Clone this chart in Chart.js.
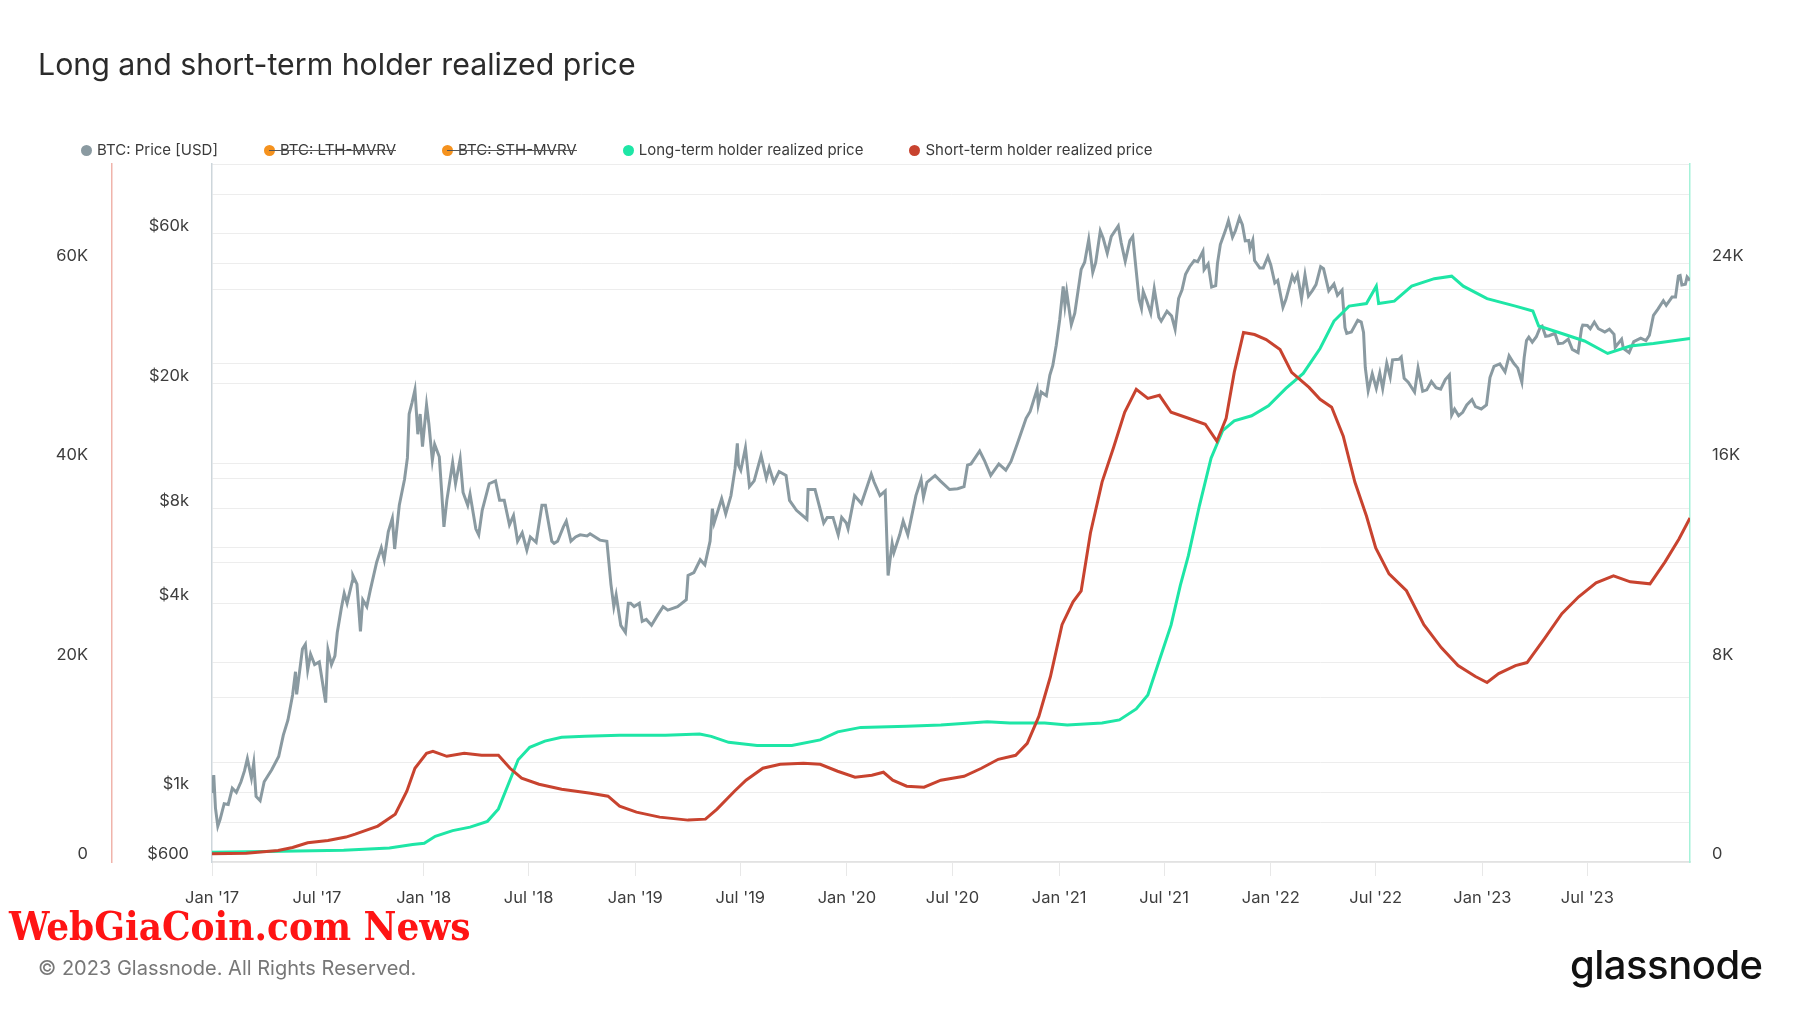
<!DOCTYPE html>
<html>
<head>
<meta charset="utf-8">
<title>Long and short-term holder realized price</title>
<script src="https://cdn.jsdelivr.net/npm/chart.js@4.4.0/dist/chart.umd.min.js"></script>
<style>
  html, body { margin: 0; padding: 0; background: #fff; }
  body { width: 1800px; height: 1013px; position: relative; overflow: hidden; font-family: Inter, "Noto Sans", sans-serif; }
  #chart { position: absolute; left: 0; top: 0; }
  #title { position: absolute; left: 38px; top: 46px; font-size: 30.3px; color: #2b2b2b; white-space: nowrap; }
  #legend { position: absolute; left: 81px; top: 140px; display: flex; font-size: 15px; color: #3b3b3b; white-space: nowrap; }
  #legend .item { position: relative; display: flex; align-items: center; margin-right: 46px; line-height: 20px; }
  #legend .dot { width: 11px; height: 11px; border-radius: 50%; margin-right: 5px; }
  #legend .off::after { content: ''; position: absolute; left: 5px; right: 0; top: 10px; height: 1px; background: #555; }
  #mark { position: absolute; left: 9px; top: 902px; font-family: "DejaVu Serif Condensed", "DejaVu Serif", serif; font-weight: bold; font-size: 40px; color: #ff1414; white-space: nowrap; }
  #copy { position: absolute; left: 38px; top: 956px; font-size: 20px; color: #777; white-space: nowrap; }
  #logo { position: absolute; left: 1570px; top: 940px; font-size: 40px; font-weight: 500; color: #111; letter-spacing: -0.5px; }
</style>
</head>
<body>
<canvas id="chart" width="1800" height="1013"></canvas>
<div id="title">Long and short-term holder realized price</div>
<div id="legend"></div>
<div id="mark">WebGiaCoin.com News</div>
<div id="copy">© 2023 Glassnode. All Rights Reserved.</div>
<div id="logo">glassnode</div>
<script>
// x axis ticks
const xTickDates  = ['2017-01-01','2017-07-01','2018-01-01','2018-07-01','2019-01-01','2019-07-01','2020-01-01',
                     '2020-07-01','2021-01-01','2021-07-01','2022-01-01','2022-07-01','2023-01-01','2023-07-01'];
const xTickLabels = ["Jan '17","Jul '17","Jan '18","Jul '18","Jan '19","Jul '19","Jan '20",
                     "Jul '20","Jan '21","Jul '21","Jan '22","Jul '22","Jan '23","Jul '23"];

// left log axis (price)
const priceTickValues = [600, 800, 1000, 2000, 4000, 6000, 8000, 10000, 20000, 40000, 60000, 80000, 100000];
const priceTickLabels = ['$600', '', '$1k', '', '$4k', '', '$8k', '', '$20k', '', '$60k', '', ''];
// left linear axis (short-term holder realized price)
const sthTickValues = [0, 10000, 20000, 30000, 40000, 50000, 60000, 70000];
const sthTickLabels = ['0', '', '20K', '', '40K', '', '60K', ''];
// right linear axis (long-term holder realized price)
const lthTickValues = [0, 4000, 8000, 12000, 16000, 20000, 24000, 28000];
const lthTickLabels = ['0', '', '8K', '', '16K', '', '24K', ''];

// BTC: Price [USD]
const btcPrice = [
  ['2017-01-01',995],['2017-01-04',1135],['2017-01-07',890],['2017-01-11',780],['2017-01-15',820],['2017-01-22',920],
  ['2017-01-29',915],['2017-02-05',1030],['2017-02-12',1000],['2017-02-20',1080],['2017-02-26',1170],['2017-03-03',1280],
  ['2017-03-10',1110],['2017-03-14',1240],['2017-03-18',970],['2017-03-25',940],['2017-04-01',1080],['2017-04-14',1180],
  ['2017-04-26',1300],['2017-05-04',1520],['2017-05-12',1700],['2017-05-20',2040],['2017-05-25',2420],['2017-05-27',2050],
  ['2017-06-06',2860],['2017-06-11',2960],['2017-06-15',2450],['2017-06-20',2750],['2017-06-27',2550],['2017-07-05',2600],
  ['2017-07-16',1930],['2017-07-20',2840],['2017-07-26',2550],['2017-08-01',2720],['2017-08-05',3220],['2017-08-12',3850],
  ['2017-08-17',4300],['2017-08-22',4000],['2017-08-31',4700],['2017-09-01',4900],['2017-09-08',4600],['2017-09-14',3250],
  ['2017-09-18',4100],['2017-09-25',3900],['2017-10-01',4400],['2017-10-12',5400],['2017-10-20',6000],['2017-10-25',5500],
  ['2017-11-01',6750],['2017-11-08',7450],['2017-11-12',5950],['2017-11-20',8200],['2017-11-26',9300],['2017-11-29',9900],
  ['2017-12-04',11600],['2017-12-07',16000],['2017-12-12',17400],['2017-12-17',19100],['2017-12-22',13800],['2017-12-26',16000],
  ['2017-12-30',12600],['2018-01-06',17100],['2018-01-10',14900],['2018-01-16',11400],['2018-01-20',12800],['2018-01-28',11700],
  ['2018-02-01',9100],['2018-02-05',7000],['2018-02-10',8500],['2018-02-20',11200],['2018-02-25',9600],['2018-03-05',11500],
  ['2018-03-10',9000],['2018-03-18',8200],['2018-03-22',8900],['2018-04-01',6900],['2018-04-06',6600],['2018-04-12',7900],
  ['2018-04-24',9600],['2018-05-05',9800],['2018-05-12',8500],['2018-05-20',8500],['2018-05-29',7100],['2018-06-05',7600],
  ['2018-06-12',6300],['2018-06-20',6700],['2018-06-28',5900],['2018-07-04',6500],['2018-07-14',6250],['2018-07-24',8200],
  ['2018-07-30',8200],['2018-08-10',6300],['2018-08-14',6200],['2018-08-20',6300],['2018-08-30',7000],['2018-09-04',7300],
  ['2018-09-12',6300],['2018-09-20',6500],['2018-09-28',6600],['2018-10-10',6550],['2018-10-15',6650],['2018-11-01',6350],
  ['2018-11-13',6300],['2018-11-20',4600],['2018-11-25',3900],['2018-11-29',4250],['2018-12-07',3400],['2018-12-15',3230],
  ['2018-12-20',4000],['2018-12-24',4000],['2018-12-30',3900],['2019-01-08',4000],['2019-01-13',3500],['2019-01-20',3550],
  ['2019-01-29',3400],['2019-02-08',3650],['2019-02-18',3900],['2019-02-26',3800],['2019-03-15',3900],['2019-03-30',4100],
  ['2019-04-02',4900],['2019-04-12',5000],['2019-04-23',5500],['2019-05-01',5300],['2019-05-10',6300],['2019-05-14',8000],
  ['2019-05-17',7200],['2019-05-30',8600],['2019-06-06',7700],['2019-06-15',8800],['2019-06-22',10700],['2019-06-26',12900],
  ['2019-06-28',11000],['2019-07-02',10600],['2019-07-10',12500],['2019-07-17',9400],['2019-07-25',9800],['2019-08-06',11800],
  ['2019-08-15',10000],['2019-08-20',10800],['2019-08-28',9700],['2019-09-06',10500],['2019-09-18',10200],['2019-09-24',8500],
  ['2019-10-06',7900],['2019-10-24',7400],['2019-10-26',9200],['2019-11-07',9200],['2019-11-22',7200],['2019-11-28',7500],
  ['2019-12-08',7500],['2019-12-17',6600],['2019-12-23',7500],['2019-12-31',7200],['2020-01-03',6900],['2020-01-14',8800],
  ['2020-01-26',8300],['2020-02-12',10300],['2020-02-17',9700],['2020-02-27',8800],['2020-03-07',9100],['2020-03-12',4900],
  ['2020-03-19',6200],['2020-03-22',5800],['2020-04-01',6600],['2020-04-07',7300],['2020-04-15',6600],['2020-04-29',8800],
  ['2020-05-08',9900],['2020-05-12',8700],['2020-05-18',9700],['2020-06-01',10200],['2020-06-10',9800],['2020-06-26',9200],
  ['2020-07-10',9250],['2020-07-21',9400],['2020-07-27',11000],['2020-08-02',11100],['2020-08-17',12200],['2020-08-25',11400],
  ['2020-09-05',10200],['2020-09-19',11100],['2020-10-01',10600],['2020-10-10',11300],['2020-10-21',12900],['2020-11-05',15500],
  ['2020-11-12',16300],['2020-11-24',19200],['2020-11-26',17100],['2020-12-01',18800],['2020-12-10',18300],['2020-12-16',21300],
  ['2020-12-21',22800],['2020-12-27',26500],['2021-01-02',32000],['2021-01-08',40800],['2021-01-11',35500],['2021-01-14',39200],
  ['2021-01-22',30800],['2021-01-28',33500],['2021-02-08',46200],['2021-02-14',48700],['2021-02-21',57500],['2021-02-28',45200],
  ['2021-03-05',48500],['2021-03-13',61200],['2021-03-18',58000],['2021-03-25',52000],['2021-04-01',58800],['2021-04-13',63500],
  ['2021-04-18',56200],['2021-04-25',49000],['2021-05-03',57000],['2021-05-08',58800],['2021-05-12',49500],['2021-05-19',37000],
  ['2021-05-23',34700],['2021-05-26',39300],['2021-06-01',36700],['2021-06-08',33500],['2021-06-14',40100],['2021-06-22',32500],
  ['2021-06-26',31600],['2021-07-06',34000],['2021-07-14',32800],['2021-07-20',29800],['2021-07-26',37300],['2021-08-01',39800],
  ['2021-08-07',44600],['2021-08-14',47100],['2021-08-22',49300],['2021-08-28',48900],['2021-09-06',52700],['2021-09-08',46100],
  ['2021-09-15',48100],['2021-09-21',40600],['2021-09-28',41000],['2021-10-01',48200],['2021-10-06',55400],['2021-10-15',61600],
  ['2021-10-20',66000],['2021-10-27',58500],['2021-11-01',61300],['2021-11-08',67500],['2021-11-13',64100],['2021-11-18',56900],
  ['2021-11-24',57100],['2021-11-26',53700],['2021-12-01',57200],['2021-12-04',49300],['2021-12-13',46700],['2021-12-19',46700],
  ['2021-12-27',50700],['2022-01-01',47700],['2022-01-08',41800],['2022-01-13',42600],['2022-01-22',35000],['2022-01-27',37000],
  ['2022-02-07',44000],['2022-02-11',42400],['2022-02-16',44500],['2022-02-23',37300],['2022-03-01',44400],['2022-03-07',38000],
  ['2022-03-14',39600],['2022-03-20',41300],['2022-03-28',47100],['2022-04-02',46400],['2022-04-11',39500],['2022-04-20',41500],
  ['2022-04-26',38200],['2022-05-04',39700],['2022-05-09',30100],['2022-05-12',28900],['2022-05-20',29200],['2022-05-31',31800],
  ['2022-06-06',31400],['2022-06-10',29100],['2022-06-13',22500],['2022-06-18',19000],['2022-06-25',21500],['2022-07-02',19300],
  ['2022-07-08',21600],['2022-07-13',19300],['2022-07-20',23200],['2022-07-26',21000],['2022-07-30',23800],['2022-08-10',23900],
  ['2022-08-14',24300],['2022-08-19',20800],['2022-08-26',20200],['2022-09-06',18800],['2022-09-12',22400],['2022-09-20',18900],
  ['2022-09-27',19100],['2022-10-05',20300],['2022-10-13',19400],['2022-10-21',19200],['2022-10-29',20600],['2022-11-05',21300],
  ['2022-11-09',15900],['2022-11-14',16600],['2022-11-21',15800],['2022-11-28',16200],['2022-12-05',17100],['2022-12-14',17800],
  ['2022-12-20',16900],['2022-12-30',16600],['2023-01-08',17100],['2023-01-14',20900],['2023-01-21',22700],['2023-01-31',23100],
  ['2023-02-09',21800],['2023-02-16',24500],['2023-02-24',23200],['2023-03-03',22400],['2023-03-10',20200],['2023-03-14',24200],
  ['2023-03-18',27400],['2023-03-22',28100],['2023-03-28',27100],['2023-04-04',28200],['2023-04-11',30300],['2023-04-14',30500],
  ['2023-04-20',28300],['2023-04-26',28400],['2023-05-06',28900],['2023-05-12',26800],['2023-05-20',26900],['2023-05-29',27700],
  ['2023-06-05',25700],['2023-06-15',25100],['2023-06-21',30000],['2023-06-23',30700],['2023-07-01',30600],['2023-07-06',29900],
  ['2023-07-13',31400],['2023-07-20',29900],['2023-07-31',29200],['2023-08-08',29800],['2023-08-16',28700],['2023-08-18',26100],
  ['2023-08-29',27700],['2023-09-01',25900],['2023-09-11',25100],['2023-09-19',27200],['2023-10-01',27900],['2023-10-10',27400],
  ['2023-10-16',28500],['2023-10-23',33000],['2023-10-31',34600],['2023-11-09',36700],['2023-11-14',35500],['2023-11-24',37700],
  ['2023-11-30',37700],['2023-12-05',44000],['2023-12-08',44200],['2023-12-11',41200],['2023-12-17',41400],['2023-12-20',43700],
  ['2023-12-25',42600]
];

// Long-term holder realized price
const lthPrice = [
  ['2017-01-01',390],['2017-05-01',430],['2017-08-16',470],['2017-11-03',560],['2017-12-13',700],['2018-01-02',750],
  ['2018-01-21',1030],['2018-02-20',1260],['2018-03-22',1400],['2018-04-21',1630],['2018-05-10',2130],['2018-05-26',3060],
  ['2018-06-13',4100],['2018-07-03',4600],['2018-07-29',4850],['2018-08-27',5000],['2018-10-06',5040],['2018-12-05',5080],
  ['2019-01-03',5080],['2019-02-22',5080],['2019-04-22',5130],['2019-05-12',5040],['2019-06-11',4800],['2019-07-30',4670],
  ['2019-09-28',4670],['2019-11-16',4900],['2019-12-16',5220],['2020-01-25',5400],['2020-04-13',5450],['2020-06-11',5500],
  ['2020-07-31',5580],['2020-08-30',5630],['2020-10-08',5580],['2020-12-07',5580],['2021-01-15',5500],['2021-03-16',5580],
  ['2021-04-15',5700],['2021-05-14',6140],['2021-06-03',6700],['2021-06-23',8100],['2021-07-13',9500],['2021-07-29',11100],
  ['2021-08-12',12300],['2021-08-31',14300],['2021-09-20',16200],['2021-10-10',17300],['2021-10-30',17700],['2021-11-29',17900],
  ['2021-12-28',18300],['2022-01-27',19000],['2022-02-26',19600],['2022-03-27',20600],['2022-04-20',21700],['2022-05-16',22300],
  ['2022-06-15',22400],['2022-07-02',23100],['2022-07-06',22400],['2022-08-02',22500],['2022-09-01',23100],['2022-10-10',23400],
  ['2022-11-09',23500],['2022-11-29',23100],['2023-01-09',22600],['2023-02-27',22300],['2023-03-29',22100],['2023-04-08',21500],
  ['2023-05-18',21200],['2023-06-26',20900],['2023-08-05',20400],['2023-09-13',20700],['2023-10-23',20800],['2023-12-25',21000]
];

// Short-term holder realized price
const sthPrice = [
  ['2017-01-01',820],['2017-03-01',880],['2017-04-25',1150],['2017-05-20',1450],['2017-06-15',1930],['2017-07-20',2150],
  ['2017-08-20',2500],['2017-09-05',2800],['2017-10-14',3600],['2017-11-13',4800],['2017-12-03',7100],['2017-12-17',9400],
  ['2018-01-06',10900],['2018-01-17',11100],['2018-02-10',10600],['2018-03-12',10900],['2018-04-11',10700],['2018-05-10',10700],
  ['2018-05-30',9400],['2018-06-19',8400],['2018-07-19',7800],['2018-08-27',7300],['2018-10-16',6900],['2018-11-15',6600],
  ['2018-12-05',5600],['2019-01-03',5000],['2019-02-12',4500],['2019-04-02',4200],['2019-05-02',4300],['2019-05-22',5300],
  ['2019-06-21',7100],['2019-07-11',8200],['2019-08-09',9400],['2019-09-08',9800],['2019-10-18',9900],['2019-11-16',9800],
  ['2019-12-16',9100],['2020-01-15',8500],['2020-02-13',8700],['2020-03-04',9000],['2020-03-20',8200],['2020-04-13',7600],
  ['2020-05-13',7500],['2020-06-11',8200],['2020-07-21',8600],['2020-08-20',9400],['2020-09-18',10300],['2020-10-18',10700],
  ['2020-11-07',11900],['2020-11-27',14600],['2020-12-17',18600],['2021-01-06',23800],['2021-01-25',26100],['2021-02-08',27200],
  ['2021-02-24',33000],['2021-03-16',38100],['2021-04-05',41600],['2021-04-24',45100],['2021-05-14',47400],['2021-06-03',46500],
  ['2021-06-23',46800],['2021-07-13',45100],['2021-08-12',44500],['2021-09-10',43900],['2021-09-30',42200],['2021-10-16',44500],
  ['2021-10-30',49100],['2021-11-15',53100],['2021-12-04',52900],['2021-12-24',52400],['2022-01-17',51400],['2022-02-06',49100],
  ['2022-03-08',47600],['2022-03-27',46400],['2022-04-16',45600],['2022-05-06',42700],['2022-05-26',38100],['2022-06-15',34700],
  ['2022-07-01',31500],['2022-07-24',28900],['2022-08-23',27200],['2022-09-22',23800],['2022-10-22',21500],['2022-11-20',19700],
  ['2022-12-20',18600],['2023-01-09',18000],['2023-01-29',18900],['2023-02-27',19700],['2023-03-19',20000],['2023-04-18',22400],
  ['2023-05-18',24900],['2023-06-16',26600],['2023-07-16',28000],['2023-08-15',28700],['2023-09-13',28100],['2023-10-17',27900],
  ['2023-11-12',30100],['2023-12-06',32400],['2023-12-25',34500]
];

const GRAY = '#8a9aa1', GREEN = '#1ee6a6', RED = '#c8432f', ORANGE = '#f5921e';
const GRID = '#ededed';

// days since 1 Jan 2017
const day = s => (Date.UTC(+s.slice(0, 4), +s.slice(5, 7) - 1, +s.slice(8, 10)) - Date.UTC(2017, 0, 1)) / 864e5;
const toXY = rows => rows.map(r => ({ x: day(r[0]), y: r[1] }));
const tickFont = { family: 'Inter', size: 16.5 };
const fixTicks = vals => scale => { scale.ticks = vals.map(v => ({ value: v })); };

const chart = new Chart(document.getElementById('chart'), {
  type: 'line',
  data: {
    datasets: [
      { label: 'BTC: Price [USD]', data: toXY(btcPrice), yAxisID: 'yPrice', borderColor: GRAY, backgroundColor: GRAY, borderWidth: 3, order: 3 },
      { label: 'BTC: LTH-MVRV', data: [], hidden: true, yAxisID: 'yLth', borderColor: ORANGE, backgroundColor: ORANGE },
      { label: 'BTC: STH-MVRV', data: [], hidden: true, yAxisID: 'yLth', borderColor: ORANGE, backgroundColor: ORANGE },
      { label: 'Long-term holder realized price', data: toXY(lthPrice), yAxisID: 'yLth', borderColor: GREEN, backgroundColor: GREEN, borderWidth: 3, order: 2 },
      { label: 'Short-term holder realized price', data: toXY(sthPrice), yAxisID: 'ySth', borderColor: RED, backgroundColor: RED, borderWidth: 3, order: 1 }
    ]
  },
  options: {
    responsive: false,
    animation: false,
    layout: { padding: { left: 38, top: 164, right: 0, bottom: 0 } },
    elements: { point: { radius: 0 }, line: { tension: 0 } },
    plugins: { legend: { display: false }, tooltip: { enabled: false } },
    scales: {
      x: {
        type: 'linear',
        min: 0,
        max: day(btcPrice[btcPrice.length - 1][0]),
        afterBuildTicks: fixTicks(xTickDates.map(day)),
        afterFit: s => { s.height = 151; },
        ticks: { autoSkip: false, maxRotation: 0, padding: 12, color: '#3d3d3d', font: tickFont,
                 callback: (v, i) => xTickLabels[i] },
        grid: { drawOnChartArea: false, tickLength: 14, color: '#e8e8e8' },
        border: { color: '#e2e2e2', width: 1.5 }
      },
      yPrice: {
        type: 'logarithmic',
        position: 'left',
        weight: 0,
        min: 600,
        max: 100000,
        afterBuildTicks: fixTicks(priceTickValues),
        afterFit: s => { s.width = 100; },
        ticks: { autoSkip: false, padding: 23, labelOffset: -8, color: '#3d3d3d', font: tickFont,
                 callback: v => priceTickLabels[priceTickValues.indexOf(v)] || '' },
        grid: { color: GRID, drawTicks: false },
        border: { color: '#cdd6db', width: 1.5 }
      },
      ySth: {
        type: 'linear',
        position: 'left',
        weight: 1,
        min: 0,
        max: 70000,
        afterBuildTicks: fixTicks(sthTickValues),
        afterFit: s => { s.width = 74; },
        ticks: { autoSkip: false, padding: 24, labelOffset: -8, color: '#3d3d3d', font: tickFont,
                 callback: v => sthTickLabels[sthTickValues.indexOf(v)] || '' },
        grid: { color: GRID, drawTicks: false },
        border: { color: '#f0b4ab', width: 1.5 }
      },
      yLth: {
        type: 'linear',
        position: 'right',
        min: 0,
        max: 28000,
        afterBuildTicks: fixTicks(lthTickValues),
        afterFit: s => { s.width = 110; },
        ticks: { autoSkip: false, padding: 22, labelOffset: -8, color: '#3d3d3d', font: tickFont,
                 callback: v => lthTickLabels[lthTickValues.indexOf(v)] || '' },
        grid: { display: false, drawTicks: false },
        border: { color: '#a6f2d9', width: 1.5 }
      }
    }
  }
});

// legend, built from the datasets
const legend = document.getElementById('legend');
chart.data.datasets.forEach(ds => {
  const item = document.createElement('div');
  item.className = 'item' + (ds.hidden ? ' off' : '');
  item.innerHTML = '<span class="dot" style="background:' + ds.borderColor + '"></span><span>' + ds.label + '</span>';
  legend.appendChild(item);
});
</script>
</body>
</html>
